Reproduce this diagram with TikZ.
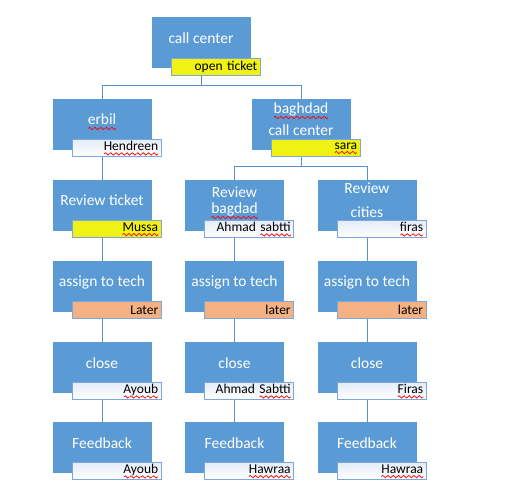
\documentclass[tikz,border=0pt]{standalone}
\usepackage{fontspec}
\setmainfont{Carlito}
\usetikzlibrary{positioning,backgrounds}

\definecolor{boxblue}{HTML}{5B9BD5}
\definecolor{lineblue}{HTML}{5A8FCC}
\definecolor{tagblue}{HTML}{7DA7DB}
\definecolor{tagtint}{HTML}{E4ECF7}
\definecolor{tagyellow}{HTML}{F0F214}
\definecolor{tagorange}{HTML}{F4B183}

% red wavy line under a word
\newbox\spellword
\newbox\spellwave
\newcommand\spell[1]{\leavevmode%
  \setbox\spellwave\hbox{\tikz[baseline=0pt]{\useasboundingbox (0pt,-1.2pt) rectangle (5pt,1.2pt);%
    \draw[red,line width=0.7pt,line cap=round] (0pt,0pt) sin (1.25pt,1.2pt) cos (2.5pt,0pt) sin (3.75pt,-1.2pt) cos (5pt,0pt);}}%
  \setbox\spellword\hbox{#1}%
  \rlap{\lower3.5pt\hbox to \wd\spellword{\xleaders\copy\spellwave\hfil}}\box\spellword}

\tikzset{
  stepbox/.style={fill=boxblue, draw=boxblue, minimum width=98pt, minimum height=50pt,
    inner sep=0pt, text=white, font=\fontsize{15.5}{18}\selectfont, align=center,
    text height=11pt, text depth=9pt},
  tag/.style={draw=tagblue, line width=0.8pt, minimum height=17pt, text width=83pt,
    align=right, inner xsep=3pt, inner ysep=0pt, text=black,
    font=\fontsize{13.5}{15}\selectfont, anchor=north west},
  plain/.style={tag, top color=tagtint, bottom color=white},
  hot/.style={tag, fill=tagyellow},
  later/.style={tag, fill=tagorange},
  conn/.style={draw=lineblue, line width=0.9pt}
}

\begin{document}
\begin{tikzpicture}[x=1pt,y=1pt]
    \useasboundingbox (0,0) rectangle (508,498);
    %TOP
    \node[stepbox] (cc) at (201,455.5) {call center};
    \node[hot] (cc-t) at ([xshift=19pt,yshift=10pt]cc.south west) {open ticket};
    %SECOND ROW
    \node[stepbox] (erbil) at (102,374) {\spell{erbil}};
    \node[plain] (erbil-t) at ([xshift=19pt,yshift=10pt]erbil.south west) {\spell{Hendreen}};
    \node[stepbox, text height=33pt] (bgd) at (301,374) {\spell{baghdad}\\[4pt]call center};
    \node[hot] (bgd-t) at ([xshift=19pt,yshift=10pt]bgd.south west) {\spell{sara}};
    %REVIEW
    \node[stepbox] (rev1) at (102,293) {Review ticket};
    \node[hot] (rev1-t) at ([xshift=19pt,yshift=10pt]rev1.south west) {\spell{Mussa}};
    \node[stepbox, text height=27pt] (rev2) at (234.5,293) {Review\\[-2pt]\spell{bagdad}};
    \node[plain] (rev2-t) at ([xshift=19pt,yshift=10pt]rev2.south west) {Ahmad \spell{sabtti}};
    \node[stepbox, text height=35pt] (rev3) at (367,293) {Review\\[6pt]cities};
    \node[plain] (rev3-t) at ([xshift=19pt,yshift=10pt]rev3.south west) {\spell{firas}};
    %ASSIGN
    \node[stepbox] (asg1) at (102,212) {assign to tech};
    \node[later] (asg1-t) at ([xshift=19pt,yshift=10pt]asg1.south west) {Later};
    \node[stepbox] (asg2) at (234.5,212) {assign to tech};
    \node[later] (asg2-t) at ([xshift=19pt,yshift=10pt]asg2.south west) {later};
    \node[stepbox] (asg3) at (367,212) {assign to tech};
    \node[later] (asg3-t) at ([xshift=19pt,yshift=10pt]asg3.south west) {later};
    %CLOSE
    \node[stepbox] (cls1) at (102,131) {close};
    \node[plain] (cls1-t) at ([xshift=19pt,yshift=10pt]cls1.south west) {\spell{Ayoub}};
    \node[stepbox] (cls2) at (234.5,131) {close};
    \node[plain] (cls2-t) at ([xshift=19pt,yshift=10pt]cls2.south west) {Ahmad \spell{Sabtti}};
    \node[stepbox] (cls3) at (367,131) {close};
    \node[plain] (cls3-t) at ([xshift=19pt,yshift=10pt]cls3.south west) {\spell{Firas}};
    %FEEDBACK
    \node[stepbox] (fb1) at (102,51) {Feedback};
    \node[plain] (fb1-t) at ([xshift=19pt,yshift=10pt]fb1.south west) {\spell{Ayoub}};
    \node[stepbox] (fb2) at (234.5,51) {Feedback};
    \node[plain] (fb2-t) at ([xshift=19pt,yshift=10pt]fb2.south west) {\spell{Hawraa}};
    \node[stepbox] (fb3) at (367,51) {Feedback};
    \node[plain] (fb3-t) at ([xshift=19pt,yshift=10pt]fb3.south west) {\spell{Hawraa}};

    %CONNECTORS
    \begin{scope}[on background layer]
        \coordinate (bar1) at (0,413);
        \coordinate (bar2) at (0,332);
        \draw[conn] (cc.south) -- (cc.south |- bar1) -| (erbil.north);
        \draw[conn] (cc.south |- bar1) -| (bgd.north);
        \draw[conn] (bgd.south) -- (bgd.south |- bar2) -| (rev2.north);
        \draw[conn] (bgd.south |- bar2) -| (rev3.north);
        \draw[conn] (erbil.south) -- (rev1.north);
        \foreach \i in {1,2,3}
            \draw[conn] (rev\i.south) -- (asg\i.north) (asg\i.south) -- (cls\i.north) (cls\i.south) -- (fb\i.north);
    \end{scope}
\end{tikzpicture}
\end{document}
